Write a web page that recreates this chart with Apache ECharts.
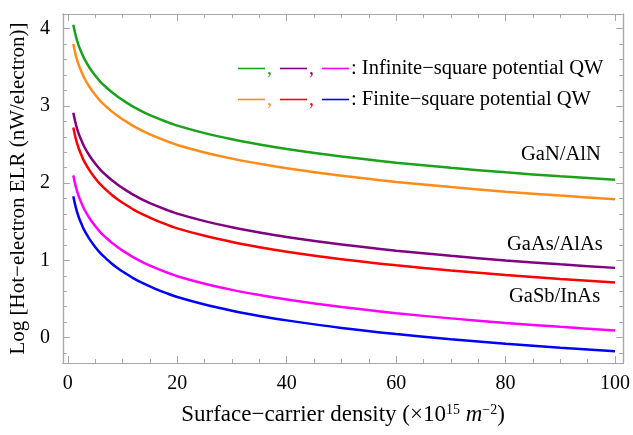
<!DOCTYPE html>
<html>
<head>
<meta charset="utf-8">
<script src="https://cdn.jsdelivr.net/npm/echarts@6/dist/echarts.min.js"></script>
<style>html,body{margin:0;padding:0;background:#fff}#c{width:633px;height:435px}</style>
</head>
<body>
<div id="c"></div>
<script>
// carrier density (x 10^15 m^-2)
const density = [1, 1.5, 2, 2.5, 3, 4, 5, 6, 7, 8, 9, 10, 12, 14, 16, 18, 20, 25, 30, 35, 40, 50, 60, 70, 80, 90, 100];
// Log hot-electron ELR (nW/electron)
const ganInfinite  = [4.05, 3.893, 3.778, 3.69, 3.611, 3.491, 3.393, 3.309, 3.242, 3.179, 3.125, 3.076, 2.987, 2.914, 2.851, 2.795, 2.744, 2.647, 2.567, 2.50, 2.442, 2.344, 2.265, 2.198, 2.139, 2.088, 2.042];
const ganFinite    = [3.80, 3.643, 3.528, 3.44, 3.361, 3.241, 3.143, 3.059, 2.992, 2.929, 2.875, 2.826, 2.737, 2.664, 2.601, 2.545, 2.494, 2.397, 2.317, 2.25, 2.192, 2.094, 2.015, 1.948, 1.889, 1.838, 1.792];
const gaasInfinite = [2.91, 2.753, 2.638, 2.55, 2.471, 2.351, 2.253, 2.169, 2.102, 2.039, 1.985, 1.936, 1.847, 1.774, 1.711, 1.655, 1.604, 1.507, 1.427, 1.36, 1.302, 1.204, 1.125, 1.058, 0.999, 0.948, 0.902];
const gaasFinite   = [2.72, 2.563, 2.448, 2.36, 2.281, 2.161, 2.063, 1.979, 1.912, 1.849, 1.795, 1.746, 1.657, 1.584, 1.521, 1.465, 1.414, 1.317, 1.237, 1.17, 1.112, 1.014, 0.935, 0.868, 0.809, 0.758, 0.712];
const gasbInfinite = [2.10, 1.943, 1.828, 1.74, 1.661, 1.541, 1.443, 1.359, 1.292, 1.229, 1.175, 1.126, 1.037, 0.964, 0.901, 0.845, 0.794, 0.697, 0.617, 0.55, 0.492, 0.394, 0.315, 0.248, 0.189, 0.138, 0.092];
const gasbFinite   = [1.83, 1.673, 1.558, 1.47, 1.391, 1.271, 1.173, 1.089, 1.022, 0.959, 0.905, 0.856, 0.767, 0.694, 0.631, 0.575, 0.524, 0.427, 0.347, 0.28, 0.222, 0.124, 0.045, -0.022, -0.081, -0.132, -0.178];

const xMajorTicks = [0, 20, 40, 60, 80, 100];
const xMinorTicks = [5, 10, 15, 25, 30, 35, 45, 50, 55, 65, 70, 75, 85, 90, 95];
const yMajorTicks = [0, 1, 2, 3, 4];
const yMinorTicks = [-0.2, 0.2, 0.4, 0.6, 0.8, 1.2, 1.4, 1.6, 1.8, 2.2, 2.4, 2.6, 2.8, 3.2, 3.4, 3.6, 3.8, 4.2];

const seriesNames = ['GaN/AlN infinite', 'GaN/AlN finite', 'GaAs/AlAs infinite', 'GaAs/AlAs finite', 'GaSb/InAs infinite', 'GaSb/InAs finite'];
const seriesData = [ganInfinite, ganFinite, gaasInfinite, gaasFinite, gasbInfinite, gasbFinite];
const colors = ['#1aa31a', '#ff8c1a', '#800080', '#ff0000', '#ff00ff', '#0000ff'];
const legendRows = [': Infinite\u2212square potential QW', ': Finite\u2212square potential QW'];
const curveLabels = ['GaN/AlN', 'GaAs/AlAs', 'GaSb/InAs'];

const FONT = 'Liberation Serif';
const frame = '#a8a8a8';
const XMIN = -0.9, XMAX = 101.5, YMIN = -0.33, YMAX = 4.19;

function xAx(pos, values, len, labels, extra) {
  return Object.assign({
    type: 'value', position: pos, min: XMIN, max: XMAX,
    axisLine: { show: true, onZero: false, lineStyle: { color: frame, width: 1.2 } },
    axisTick: { show: true, inside: true, length: len, customValues: values, lineStyle: { color: frame } },
    axisLabel: labels ? { show: true, customValues: values, margin: 11, color: '#000', fontFamily: FONT, fontSize: 20 } : { show: false },
    splitLine: { show: false }
  }, extra || {});
}
function yAx(pos, values, len, labels, extra) {
  return Object.assign({
    type: 'value', position: pos, min: YMIN, max: YMAX,
    axisLine: { show: true, onZero: false, lineStyle: { color: frame, width: 1.2 } },
    axisTick: { show: true, inside: true, length: len, customValues: values, lineStyle: { color: frame } },
    axisLabel: labels ? { show: true, customValues: values, margin: 13, color: '#000', fontFamily: FONT, fontSize: 20 } : { show: false },
    splitLine: { show: false }
  }, extra || {});
}

// legend decoration (keys drawn as short strokes, as in the figure)
const graphics = [];
const rowY = [68.5, 99.5];
const keyX = [238, 280, 322];
[[0, 2, 4], [1, 3, 5]].forEach((idx, r) => {
  idx.forEach((ci, k) => {
    graphics.push({ type: 'line', shape: { x1: keyX[k], y1: rowY[r], x2: keyX[k] + 27, y2: rowY[r] },
      style: { stroke: colors[ci], lineWidth: 1.6 } });
    if (k < 2) graphics.push({ type: 'text', style: { x: keyX[k] + 29, y: rowY[r], text: ',', font: '20px "Liberation Serif"', fill: colors[ci], verticalAlign: 'middle' } });
  });
  graphics.push({ type: 'text', style: { x: 351, y: rowY[r], text: legendRows[r], font: '20.5px "Liberation Serif"', fill: '#000', verticalAlign: 'middle' } });
});
const labelPos = [[521, 155], [507, 245], [509, 297]];
curveLabels.forEach((t, i) => graphics.push({ type: 'text', style: { x: labelPos[i][0], y: labelPos[i][1], text: t, font: '20.5px "Liberation Serif"', fill: '#000', verticalAlign: 'middle' } }));

const chart = echarts.init(document.getElementById('c'), null, { renderer: 'canvas' });
chart.setOption({
  animation: false,
  backgroundColor: '#fff',
  grid: { left: 62, right: 8, top: 14, bottom: 72, containLabel: false },
  xAxis: [
    xAx('bottom', xMajorTicks, 7, true, {
      name: 'Surface\u2212carrier density (\u00d710{sup|15} {it|m}{sup|\u22122})',
      nameLocation: 'middle', nameGap: 40,
      nameTextStyle: { color: '#000', fontFamily: FONT, fontSize: 23,
        rich: { sup: { fontFamily: FONT, fontSize: 14, verticalAlign: 'top', padding: [0, 0, 10, 0], color: '#000' },
                it: { fontFamily: FONT, fontSize: 23, fontStyle: 'italic', color: '#000' } } }
    }),
    xAx('bottom', xMinorTicks, 4, false),
    xAx('top', xMajorTicks, 7, false),
    xAx('top', xMinorTicks, 4, false)
  ],
  yAxis: [
    yAx('left', yMajorTicks, 7, true, {
      name: 'Log [Hot\u2212electron ELR (nW/electron)]',
      nameLocation: 'middle', nameGap: 29,
      nameTextStyle: { color: '#000', fontFamily: FONT, fontSize: 21 }
    }),
    yAx('left', yMinorTicks, 4, false),
    yAx('right', yMajorTicks, 7, false),
    yAx('right', yMinorTicks, 4, false)
  ],
  series: seriesData.map((d, i) => ({
    name: seriesNames[i], type: 'line', xAxisIndex: 0, yAxisIndex: 0,
    data: density.map((x, j) => [x, d[j]]),
    smooth: 0.3, showSymbol: false, symbol: 'none',
    lineStyle: { color: colors[i], width: 2.5 }, z: 3
  })),
  graphic: graphics
});
</script>
</body>
</html>
